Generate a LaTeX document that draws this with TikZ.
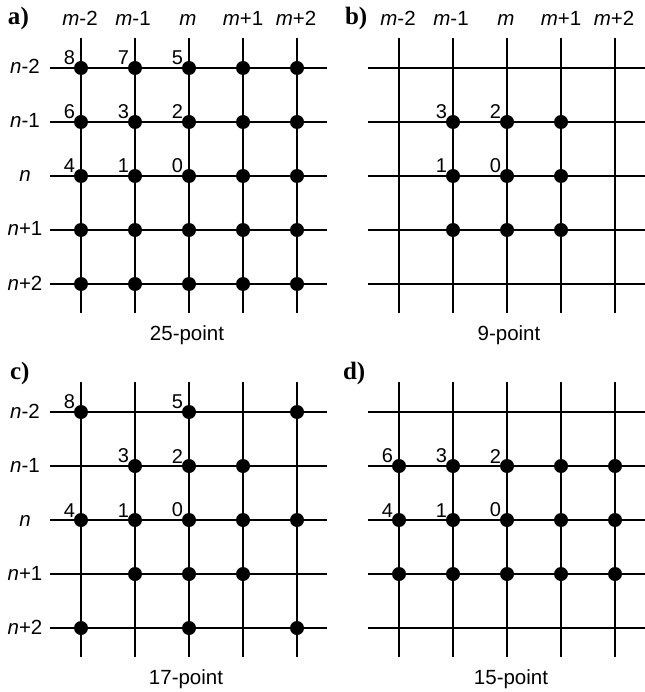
\documentclass[tikz,border=0pt]{standalone}
\usepackage{fontspec}
\setmainfont{Liberation Sans}
\newfontfamily\serifbold{Liberation Serif}
\begin{document}
\begin{tikzpicture}[x=1pt,y=-1pt,line width=2pt,
  dot/.style={circle,fill=black,draw=none,inner sep=0pt,minimum size=14pt},
  num/.style={anchor=south east,inner sep=0pt,font=\fontsize{20}{21}\selectfont},
  lab/.style={anchor=base,inner sep=0pt,font=\fontsize{20.5}{21}\selectfont},
  ptitle/.style={anchor=base west,inner sep=0pt,font=\serifbold\bfseries\fontsize{25}{26}\selectfont}]
\useasboundingbox (0,0) rectangle (644,692);

% ---------- grid lines ----------
\foreach \pn/\dx/\dy in {a/0/0,b/318/0,c/0/344,d/318/344}{
  \begin{scope}[shift={(\dx,\dy)}]
    \foreach \i in {0,...,4}{
      \draw (81+54*\i,38) -- (81+54*\i,313);
      \draw (50,68+54*\i) -- (327,68+54*\i);
    }
  \end{scope}
}

% panel titles
\node[ptitle] (ta) at (7,25) {a)};
\node[ptitle] (tb) at (344,25) {b)};
\node[ptitle] (tc) at (9,379) {c)};
\node[ptitle] (td) at (342,379) {d)};

% column labels
\foreach \dx/\p in {0/a,318/b}{
  \node[lab] (\p c0) at (80+\dx,26) {\textit{m}-2};
  \node[lab] (\p c1) at (133+\dx,26) {\textit{m}-1};
  \node[lab] (\p c2) at (188+\dx,26) {\textit{m}};
  \node[lab] (\p c3) at (243+\dx,26) {\textit{m}+1};
  \node[lab] (\p c4) at (296+\dx,26) {\textit{m}+2};
}
% row labels
\foreach \dy/\p in {0/a,344/c}{
  \node[lab] (\p r0) at (25,74+\dy) {\textit{n}-2};
  \node[lab] (\p r1) at (25,128+\dy) {\textit{n}-1};
  \node[lab] (\p r2) at (25,182+\dy) {\textit{n}};
  \node[lab] (\p r3) at (25,236+\dy) {\textit{n}+1};
  \node[lab] (\p r4) at (25,290+\dy) {\textit{n}+2};
}

% captions
\node[lab] (capa) at (187,340) {25-point};
\node[lab] (capb) at (509,340) {9-point};
\node[lab] (capc) at (186,684) {17-point};
\node[lab] (capd) at (511,684) {15-point};

% dots: panel a (all 25)
\foreach \i in {0,...,4}{\foreach \j in {0,...,4}{
  \node[dot] (a\i\j) at (81+54*\i,68+54*\j) {};
}}
% panel b (9)
\foreach \i in {1,2,3}{\foreach \j in {1,2,3}{
  \node[dot] (b\i\j) at (399+54*\i,68+54*\j) {};
}}
% panel c (17)
\foreach \i/\j in {0/0,2/0,4/0,1/1,2/1,3/1,0/2,1/2,2/2,3/2,4/2,1/3,2/3,3/3,0/4,2/4,4/4}{
  \node[dot] (c\i\j) at (81+54*\i,412+54*\j) {};
}
% panel d (15)
\foreach \i in {0,...,4}{\foreach \j in {1,2,3}{
  \node[dot] (d\i\j) at (399+54*\i,412+54*\j) {};
}}

% numbers
\foreach \p/\i/\j/\t in {a/0/0/8,a/1/0/7,a/2/0/5,a/0/1/6,a/1/1/3,a/2/1/2,a/0/2/4,a/1/2/1,a/2/2/0,
  b/1/1/3,b/2/1/2,b/1/2/1,b/2/2/0,
  c/0/0/8,c/2/0/5,c/1/1/3,c/2/1/2,c/0/2/4,c/1/2/1,c/2/2/0,
  d/0/1/6,d/1/1/3,d/2/1/2,d/0/2/4,d/1/2/1,d/2/2/0}{
  \node[num] (n\p\i\j) at ([shift={(-5,-2)}]\p\i\j.center) {\t};
}
\end{tikzpicture}
\end{document}
